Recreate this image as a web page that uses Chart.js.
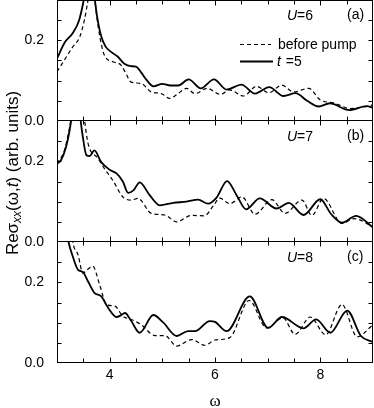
<!DOCTYPE html>
<html>
<head>
<meta charset="utf-8">
<script src="https://cdn.jsdelivr.net/npm/chart.js@4.4.1/dist/chart.umd.min.js"></script>
<style>
  html, body { margin: 0; padding: 0; background: #fff; }
  #wrap { position: relative; width: 374px; height: 408px; }
</style>
</head>
<body>
<div id="wrap"><canvas id="mycanvas" width="374" height="408"></canvas></div>
<script>
// panel (a) U=6
var aSolidW = [3.0, 3.15, 3.3, 3.42, 3.5, 3.58, 3.64, 3.7, 3.76, 3.84, 3.92, 4.02, 4.15, 4.28, 4.4, 4.5, 4.6, 4.7, 4.83, 5.0, 5.15, 5.3, 5.5, 5.73, 5.98, 6.22, 6.5, 6.76, 7.03, 7.3, 7.53, 7.75, 7.97, 8.18, 8.55, 8.88, 9.0];
var aSolid  = [0.155, 0.195, 0.218, 0.25, 0.295, 0.36, 0.38, 0.32, 0.26, 0.21, 0.185, 0.172, 0.16, 0.142, 0.136, 0.135, 0.12, 0.102, 0.086, 0.092, 0.088, 0.088, 0.103, 0.081, 0.103, 0.078, 0.09, 0.068, 0.084, 0.062, 0.069, 0.05, 0.036, 0.044, 0.027, 0.037, 0.033];
var aDashW  = [3.0, 3.14, 3.3, 3.43, 3.52, 3.6, 3.66, 3.72, 3.78, 3.9, 4.06, 4.22, 4.32, 4.4, 4.6, 4.79, 4.98, 5.14, 5.3, 5.46, 5.62, 5.85, 6.1, 6.28, 6.54, 6.79, 7.02, 7.27, 7.49, 7.78, 8.0, 8.25, 8.57, 8.83, 9.0];
var aDash   = [0.122, 0.151, 0.184, 0.208, 0.25, 0.31, 0.37, 0.30, 0.235, 0.163, 0.147, 0.138, 0.115, 0.097, 0.093, 0.072, 0.068, 0.056, 0.068, 0.081, 0.068, 0.081, 0.066, 0.077, 0.062, 0.086, 0.07, 0.089, 0.072, 0.081, 0.052, 0.045, 0.031, 0.035, 0.04];

// panel (b) U=7
var bSolidW = [3.0, 3.08, 3.17, 3.24, 3.3, 3.36, 3.42, 3.48, 3.56, 3.62, 3.71, 3.84, 4.0, 4.13, 4.25, 4.35, 4.45, 4.57, 4.76, 4.95, 5.21, 5.46, 5.68, 5.87, 6.03, 6.23, 6.41, 6.59, 6.85, 7.17, 7.4, 7.68, 8.0, 8.2, 8.41, 8.68, 9.0];
var bSolid  = [0.194, 0.204, 0.235, 0.277, 0.33, 0.37, 0.33, 0.27, 0.215, 0.213, 0.227, 0.198, 0.179, 0.17, 0.15, 0.122, 0.128, 0.148, 0.116, 0.091, 0.097, 0.1, 0.105, 0.095, 0.11, 0.151, 0.116, 0.081, 0.108, 0.083, 0.097, 0.067, 0.106, 0.07, 0.048, 0.065, 0.036];
var bDashW  = [3.0, 3.14, 3.24, 3.3, 3.4, 3.5, 3.59, 3.78, 3.9, 4.06, 4.25, 4.41, 4.54, 4.79, 5.05, 5.27, 5.55, 5.8, 5.97, 6.09, 6.28, 6.51, 6.76, 7.08, 7.33, 7.65, 7.84, 8.06, 8.41, 8.64, 9.0];
var bDash   = [0.194, 0.227, 0.285, 0.33, 0.37, 0.32, 0.244, 0.207, 0.182, 0.153, 0.112, 0.104, 0.108, 0.071, 0.067, 0.05, 0.066, 0.065, 0.09, 0.109, 0.095, 0.112, 0.069, 0.105, 0.071, 0.104, 0.066, 0.108, 0.046, 0.058, 0.038];

// panel (c) U=8
var cSolidW = [3.15, 3.22, 3.3, 3.4, 3.49, 3.59, 3.71, 3.84, 3.97, 4.13, 4.21, 4.29, 4.41, 4.57, 4.83, 5.02, 5.27, 5.49, 5.62, 5.9, 6.0, 6.22, 6.66, 7.01, 7.27, 7.68, 7.92, 8.19, 8.51, 8.77, 9.0];
var cSolid  = [0.36, 0.30, 0.264, 0.231, 0.226, 0.202, 0.174, 0.165, 0.137, 0.114, 0.118, 0.124, 0.104, 0.075, 0.119, 0.1, 0.067, 0.079, 0.079, 0.104, 0.102, 0.079, 0.165, 0.087, 0.114, 0.086, 0.108, 0.075, 0.13, 0.067, 0.052];
var cDashW  = [3.25, 3.3, 3.4, 3.49, 3.58, 3.68, 3.81, 3.94, 4.1, 4.25, 4.41, 4.6, 4.86, 5.05, 5.27, 5.56, 5.81, 6.0, 6.28, 6.65, 6.98, 7.29, 7.52, 7.81, 8.1, 8.41, 8.7, 9.0];
var cDash   = [0.36, 0.30, 0.268, 0.223, 0.232, 0.24, 0.194, 0.145, 0.141, 0.116, 0.108, 0.095, 0.068, 0.068, 0.042, 0.058, 0.044, 0.057, 0.063, 0.155, 0.087, 0.112, 0.071, 0.114, 0.07, 0.145, 0.065, 0.095];

var panelU = ['6', '7', '8'];
var panelTags = ['(a)', '(b)', '(c)'];
var xTickLabels = [4, 6, 8];
var yTickLabels = [0.0, 0.2];
var legendLabels = ['before pump', '=5'];
var xTitle = '\u03c9';

Chart.defaults.font.family = '"Liberation Sans"';

function pts(w, v) {
	var out = [];
	for (var i in w) {
		out.push({x: w[i], y: v[i]});
	}
	return out;
}

function line(w, v, axis, dashed) {
	return {
		data: pts(w, v),
		xAxisID: 'x',
		yAxisID: axis,
		borderColor: '#000',
		borderWidth: dashed ? 1.2 : 1.8,
		borderDash: dashed ? [4, 3] : [],
		pointRadius: 0,
		fill: false,
		cubicInterpolationMode: 'monotone'
	};
}

function yAxis(weight) {
	return {
		type: 'linear',
		position: 'left',
		stack: 'panels',
		stackWeight: 1,
		weight: weight,
		min: 0,
		max: 0.3,
		grid: { display: false },
		border: { display: false },
		ticks: {
			stepSize: 0.05,
			padding: 5,
			color: '#000',
			font: { size: 14 },
			callback: function(value) {
				for (var i in yTickLabels) {
					if (Math.abs(value - yTickLabels[i]) < 1e-6) return yTickLabels[i].toFixed(1);
				}
				return '';
			}
		},
		afterFit: function(scale) {
			scale.width = 57;
			scale.paddingTop = 0;
			scale.paddingBottom = 0;
		}
	};
}

// frames, inward ticks, annotations, legend and the axis titles
var decor = {
	id: 'decor',
	afterDraw: function(chart) {
		var ctx = chart.ctx;
		var xs = chart.scales.x;
		var ids = ['ya', 'yb', 'yc'];
		ctx.save();
		ctx.strokeStyle = '#000';
		ctx.lineWidth = 1;
		ctx.setLineDash([]);
		var left = Math.round(xs.left) + 0.5, right = Math.round(xs.right) - 0.5;
		for (var p = 0; p < 3; p++) {
			var ys = chart.scales[ids[p]];
			var top = Math.round(ys.top) + 0.5, bot = Math.round(ys.bottom) - 0.5;
			if (p > 0) top = Math.round(ys.top) - 0.5;
			ctx.strokeRect(left, top, right - left, bot - top);
			ctx.beginPath();
			for (var w = 3.5; w < 9; w += 0.5) {
				var px = Math.round(xs.getPixelForValue(w)) + 0.5;
				var len = (w % 2 === 0) ? 5 : 4;
				ctx.moveTo(px, bot); ctx.lineTo(px, bot - len);
				ctx.moveTo(px, top); ctx.lineTo(px, top + len);
			}
			for (var k = 1; k < 6; k++) {
				var py = Math.round(ys.getPixelForValue(k * 0.05)) + 0.5;
				ctx.moveTo(left, py); ctx.lineTo(left + 4, py);
				ctx.moveTo(right, py); ctx.lineTo(right - 4, py);
			}
			ctx.stroke();

			ctx.fillStyle = '#000';
			ctx.textBaseline = 'middle';
			ctx.font = 'italic 14px "Liberation Sans"';
			var ty = ys.top + 16;
			ctx.fillText('U', 287, ty);
			var uw = ctx.measureText('U').width;
			ctx.font = '14px "Liberation Sans"';
			ctx.fillText('=' + panelU[p], 287 + uw, ty);
			ctx.fillText(panelTags[p], 347, ys.top + 15);
		}

		// legend in panel (a)
		ctx.beginPath();
		ctx.lineWidth = 1.2;
		ctx.setLineDash([4, 3]);
		ctx.moveTo(240, 44.5); ctx.lineTo(271, 44.5);
		ctx.stroke();
		ctx.beginPath();
		ctx.lineWidth = 1.8;
		ctx.setLineDash([]);
		ctx.moveTo(240, 61.5); ctx.lineTo(273, 61.5);
		ctx.stroke();
		ctx.font = '14px "Liberation Sans"';
		ctx.fillText(legendLabels[0], 278, 45);
		ctx.font = 'italic 14px "Liberation Sans"';
		ctx.fillText('t', 277, 62);
		var tw = ctx.measureText('t ').width;
		ctx.font = '14px "Liberation Sans"';
		ctx.fillText(legendLabels[1], 277 + tw + 1, 62);

		// x title
		ctx.font = '17px "Liberation Serif"';
		ctx.textAlign = 'center';
		ctx.textBaseline = 'alphabetic';
		ctx.fillText(xTitle, (xs.left + xs.right) / 2, 406);
		ctx.textAlign = 'left';
		ctx.textBaseline = 'middle';

		// y title
		var segs = [
			['Re', '17px "Liberation Sans"', 0],
			['\u03c3', '17px "Liberation Sans"', 0],
			['xx', 'italic 12px "Liberation Sans"', 5],
			['(\u03c9,', '17px "Liberation Sans"', 0],
			['t', 'italic 17px "Liberation Sans"', 0],
			[') (arb. units)', '17px "Liberation Sans"', 0]
		];
		var total = 0;
		for (var s in segs) { ctx.font = segs[s][1]; total += ctx.measureText(segs[s][0]).width; }
		ctx.translate(13, 173);
		ctx.rotate(-Math.PI / 2);
		var cx = -total / 2;
		for (var s2 in segs) {
			ctx.font = segs[s2][1];
			ctx.fillText(segs[s2][0], cx, segs[s2][2]);
			cx += ctx.measureText(segs[s2][0]).width;
		}
		ctx.restore();
	}
};

var ctx = document.getElementById('mycanvas');

var chart = new Chart(ctx, {
	type: 'line',
	data: {
		datasets: [
			line(aDashW, aDash, 'ya', true),
			line(aSolidW, aSolid, 'ya', false),
			line(bDashW, bDash, 'yb', true),
			line(bSolidW, bSolid, 'yb', false),
			line(cDashW, cDash, 'yc', true),
			line(cSolidW, cSolid, 'yc', false)
		]
	},
	options: {
		responsive: false,
		animation: false,
		devicePixelRatio: 1,
		layout: { padding: { left: 0, right: 1, top: 0, bottom: 0 } },
		plugins: { legend: { display: false }, tooltip: { enabled: false } },
		scales: {
			x: {
				type: 'linear',
				min: 3,
				max: 9,
				grid: { display: false },
				border: { display: false },
				ticks: {
					stepSize: 1,
					padding: -4,
					color: '#000',
					font: { size: 14 },
					maxRotation: 0,
					callback: function(value) {
						return xTickLabels.indexOf(value) >= 0 ? String(value) : '';
					}
				},
				afterFit: function(scale) {
					scale.height = 45;
					scale.paddingLeft = 0;
					scale.paddingRight = 0;
				}
			},
			ya: yAxis(3),
			yb: yAxis(2),
			yc: yAxis(1)
		}
	},
	plugins: [decor]
});
</script>
</body>
</html>
